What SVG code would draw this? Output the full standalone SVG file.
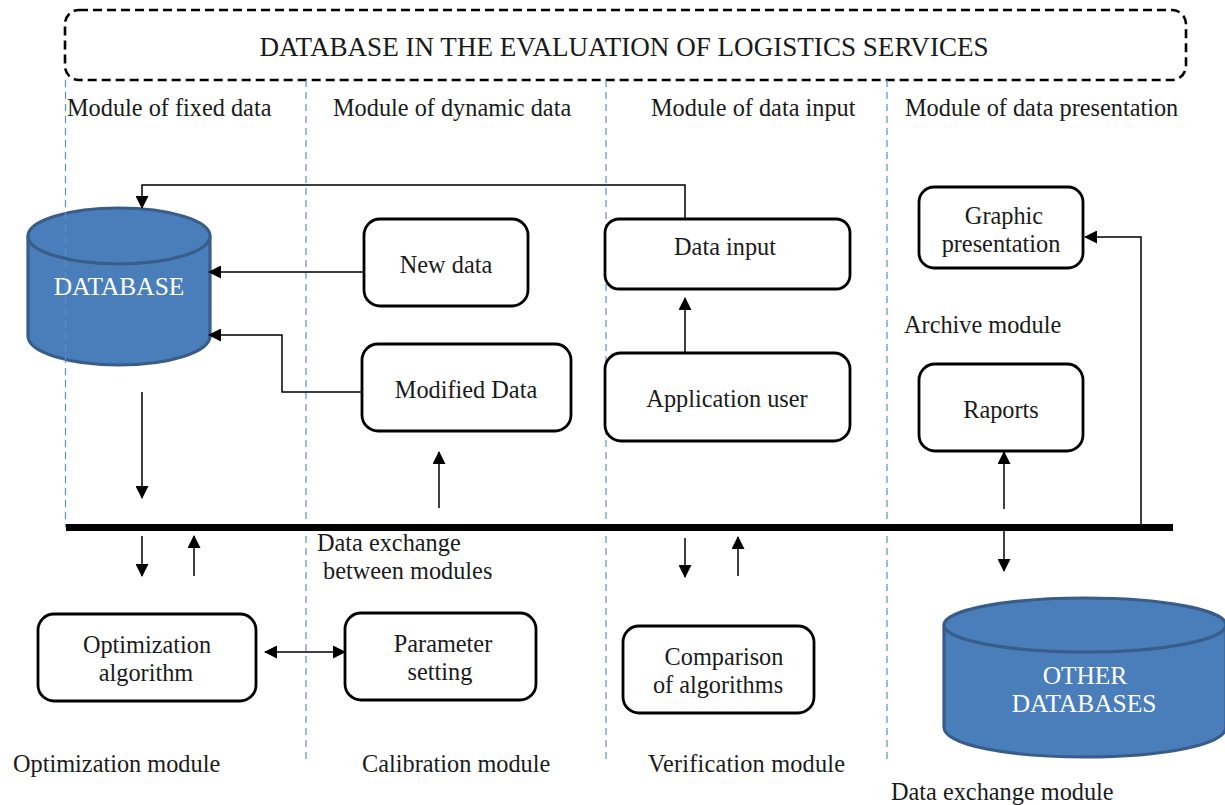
<svg xmlns="http://www.w3.org/2000/svg" width="1225" height="805" viewBox="0 0 1225 805">
<style>
text{font-family:"Liberation Serif","Times New Roman",serif;font-size:24.3px;fill:#1a1a1a;transform:translateY(.7px)}
.m{text-anchor:middle}
.box{fill:#fff;stroke:#000;stroke-width:2.8}
.dash{fill:none;stroke:#5b8fc7;stroke-width:1.2;stroke-dasharray:7 5}
.c{fill:none;stroke:#000;stroke-width:1.5}
.a{marker-end:url(#ah)}
.as{marker-start:url(#ahs);marker-end:url(#ah)}
.cyl{fill:#4a7ebb;stroke:#385d8a;stroke-width:3.2}
.cl{fill:#fff;font-size:25.4px}
</style>
<defs>
<marker id="ah" markerUnits="userSpaceOnUse" markerWidth="13" markerHeight="13" refX="12" refY="6.5" orient="auto"><path d="M0 0L13 6.5L0 13z" fill="#000"/></marker>
<marker id="ahs" markerUnits="userSpaceOnUse" markerWidth="13" markerHeight="13" refX="1" refY="6.5" orient="auto"><path d="M13 0L0 6.5L13 13z" fill="#000"/></marker>
</defs>
<rect width="1225" height="805" fill="#fff"/>
<g id="title"><rect x="65" y="10" width="1121" height="70" rx="14" fill="#fff" stroke="#000" stroke-width="2.6" stroke-dasharray="9 5"/><text class="m" x="624" y="55" style="font-size:27.1px">DATABASE IN THE EVALUATION OF LOGISTICS SERVICES</text></g>
<g id="labels">
<text x="67" y="115">Module of fixed data</text>
<text x="333" y="115">Module of dynamic data</text>
<text x="651" y="115">Module of data input</text>
<text x="905" y="115">Module of data presentation</text>
<text x="904" y="332">Archive module</text>
<text x="317" y="550">Data exchange</text>
<text x="323" y="578">between modules</text>
<text x="13" y="771">Optimization module</text>
<text x="362" y="771">Calibration module</text>
<text x="648" y="771" textLength="197">Verification module</text>
<text x="891" y="799">Data exchange module</text>
</g>
<g id="database">
<path class="cyl" d="M28 236V336C28 352 69 365 119 365S210 352 210 336V236"/>
<ellipse class="cyl" cx="119" cy="236" rx="91" ry="28"/>
<text class="m cl" x="119" y="294">DATABASE</text>
</g>
<g id="dividers">
<path class="dash" d="M65.500 80V527"/><path class="dash" d="M306 80V762"/><path class="dash" d="M606 80V762"/><path class="dash" d="M887 80V762"/>
</g>
<g id="other-databases">
<path class="cyl" d="M944 625V727C944 745 1008 757 1085 757S1226 745 1226 727V625"/>
<ellipse class="cyl" cx="1085" cy="625" rx="141" ry="27"/>
<text class="m cl" x="1085" y="683">OTHER</text>
<text class="m cl" x="1084" y="711">DATABASES</text>
</g>
<g id="new-data"><rect class="box" x="364" y="219" width="164" height="87" rx="16"/><text class="m" x="446" y="272">New data</text></g>
<g id="modified-data"><rect class="box" x="362" y="344" width="209" height="87" rx="16"/><text class="m" x="466" y="397">Modified Data</text></g>
<g id="data-input"><rect class="box" x="605" y="219" width="245" height="70" rx="14"/><text class="m" x="725" y="254">Data input</text></g>
<g id="application-user"><rect class="box" x="605" y="353" width="245" height="88" rx="16"/><text class="m" x="727" y="406">Application user</text></g>
<g id="graphic-presentation"><rect class="box" x="919" y="187" width="164" height="81" rx="15"/><text class="m" x="1004" y="223">Graphic</text><text class="m" x="1001" y="251">presentation</text></g>
<g id="raports"><rect class="box" x="919" y="364" width="164" height="87" rx="16"/><text class="m" x="1001" y="417">Raports</text></g>
<g id="optimization-algorithm"><rect class="box" x="38" y="614" width="218" height="87" rx="16"/><text class="m" x="147" y="652">Optimization</text><text class="m" x="146" y="680">algorithm</text></g>
<g id="parameter-setting"><rect class="box" x="345" y="613" width="191" height="87" rx="16"/><text class="m" x="443" y="651">Parameter</text><text class="m" x="440" y="679">setting</text></g>
<g id="comparison"><rect class="box" x="623" y="626" width="191" height="87" rx="16"/><text class="m" x="724" y="664">Comparison</text><text class="m" x="718" y="692">of algorithms</text></g>
<g id="connectors">
<path d="M66 527.500H1173" stroke="#000" stroke-width="7" fill="none"/>
<path class="c a" d="M685 219V185H142V208"/>
<path class="c a" d="M364 272H209"/>
<path class="c a" d="M362 392H282V335H209"/>
<path class="c a" d="M685 353V298"/>
<path class="c a" d="M142 392V498"/>
<path class="c a" d="M439 508V452"/>
<path class="c a" d="M142 536V576"/>
<path class="c a" d="M194 576V536"/>
<path class="c a" d="M685 538V577"/>
<path class="c a" d="M738 576V537"/>
<path class="c a" d="M1004 509V452"/>
<path class="c a" d="M1004 530V571"/>
<path class="c a" d="M1141 525V237H1085"/>
<path class="c as" d="M265 652H345"/>
</g>
</svg>
